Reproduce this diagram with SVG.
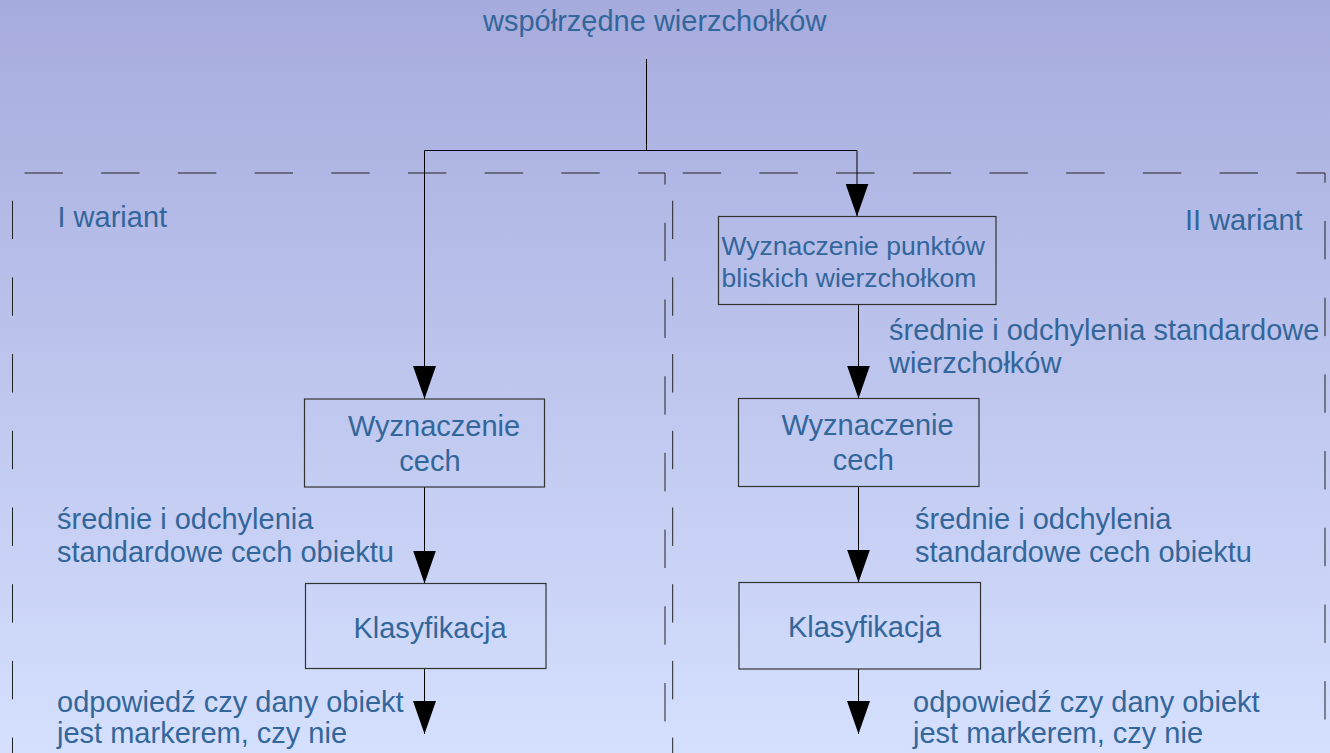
<svg xmlns="http://www.w3.org/2000/svg" width="1330" height="753" viewBox="0 0 1330 753">
<defs>
<linearGradient id="bg" x1="0" y1="0" x2="0" y2="1">
<stop offset="0" stop-color="#a6abdd"/>
<stop offset="1" stop-color="#d5e0fe"/>
</linearGradient>
<marker id="arr" markerUnits="userSpaceOnUse" viewBox="0 0 33 23" markerWidth="33" markerHeight="23" refX="33" refY="11.5" orient="auto">
<path d="M0,0 L33,11.5 L0,23 Z" fill="#000"/>
</marker>
<style>
.t{font-family:"Liberation Sans",Arial,sans-serif;font-size:29px;fill:#33669a}
.ts{font-size:26.5px}
.m{text-anchor:middle}
.box{fill:none;stroke:#333;stroke-width:1.2}
.c{fill:none;stroke:#000;stroke-width:1}
.d{fill:none;stroke:#222;stroke-width:1;stroke-dasharray:38.4 38.3}
</style>
</defs>
<rect x="0" y="0" width="1330" height="753" fill="url(#bg)"/>

<g id="frames">
<path class="d" d="M12.5,173 H665 V760" stroke-dashoffset="64.7"/>
<path class="d" d="M12.5,173 V760" stroke-dashoffset="49"/>
<path class="d" d="M672.7,173 H1325 V760" stroke-dashoffset="66.7"/>
<path class="d" d="M672.7,173 V760" stroke-dashoffset="49"/>
</g>

<g id="connectors">
<path class="c" d="M646.5,59 V150.5"/>
<path class="c" d="M424.5,150.5 H857"/>
<path class="c" d="M424.5,150.5 V399" marker-end="url(#arr)"/>
<path class="c" d="M857,150.5 V216.5" marker-end="url(#arr)"/>
<path class="c" d="M858.5,304.5 V398.5" marker-end="url(#arr)"/>
<path class="c" d="M424.5,487 V583.5" marker-end="url(#arr)"/>
<path class="c" d="M858.5,487 V582.5" marker-end="url(#arr)"/>
<path class="c" d="M424.5,668.5 V734" marker-end="url(#arr)"/>
<path class="c" d="M858.5,669 V734" marker-end="url(#arr)"/>
</g>

<g id="title"><text class="t m" x="654.7" y="30.5">współrzędne wierzchołków</text></g>
<g id="label_variant1"><text class="t" x="57.5" y="226.7">I wariant</text></g>
<g id="label_variant2"><text class="t" x="1185" y="230">II wariant</text></g>

<g id="node_punkty">
<rect class="box" x="718.5" y="216.5" width="277.5" height="88"/>
<text class="t ts" x="721.5" y="255">Wyznaczenie punktów</text>
<text class="t ts" x="721.5" y="286.7">bliskich wierzchołkom</text>
</g>

<g id="node_cechy_1">
<rect class="box" x="304.5" y="399" width="240" height="88"/>
<text class="t m" x="434" y="436">Wyznaczenie</text>
<text class="t m" x="430" y="470.7">cech</text>
</g>

<g id="node_klas_1">
<rect class="box" x="305.5" y="583.5" width="240.5" height="85"/>
<text class="t m" x="430" y="638">Klasyfikacja</text>
</g>

<g id="node_cechy_2">
<rect class="box" x="738.5" y="398.5" width="240.5" height="88"/>
<text class="t m" x="867.5" y="435">Wyznaczenie</text>
<text class="t m" x="863.3" y="470">cech</text>
</g>

<g id="node_klas_2">
<rect class="box" x="739" y="582.5" width="241.5" height="86.5"/>
<text class="t m" x="864.5" y="636.7">Klasyfikacja</text>
</g>

<g id="labels">
<text class="t" x="889" y="340">średnie i odchylenia standardowe</text>
<text class="t" x="889" y="373">wierzchołków</text>
<text class="t" x="57" y="528.5">średnie i odchylenia</text>
<text class="t" x="57" y="561.7">standardowe cech obiektu</text>
<text class="t" x="915" y="528.5">średnie i odchylenia</text>
<text class="t" x="915" y="561.7">standardowe cech obiektu</text>
<text class="t" x="57" y="711.7">odpowiedź czy dany obiekt</text>
<text class="t" x="57" y="743.3">jest markerem, czy nie</text>
<text class="t" x="913" y="711.7">odpowiedź czy dany obiekt</text>
<text class="t" x="913" y="743.3">jest markerem, czy nie</text>
</g>
</svg>
